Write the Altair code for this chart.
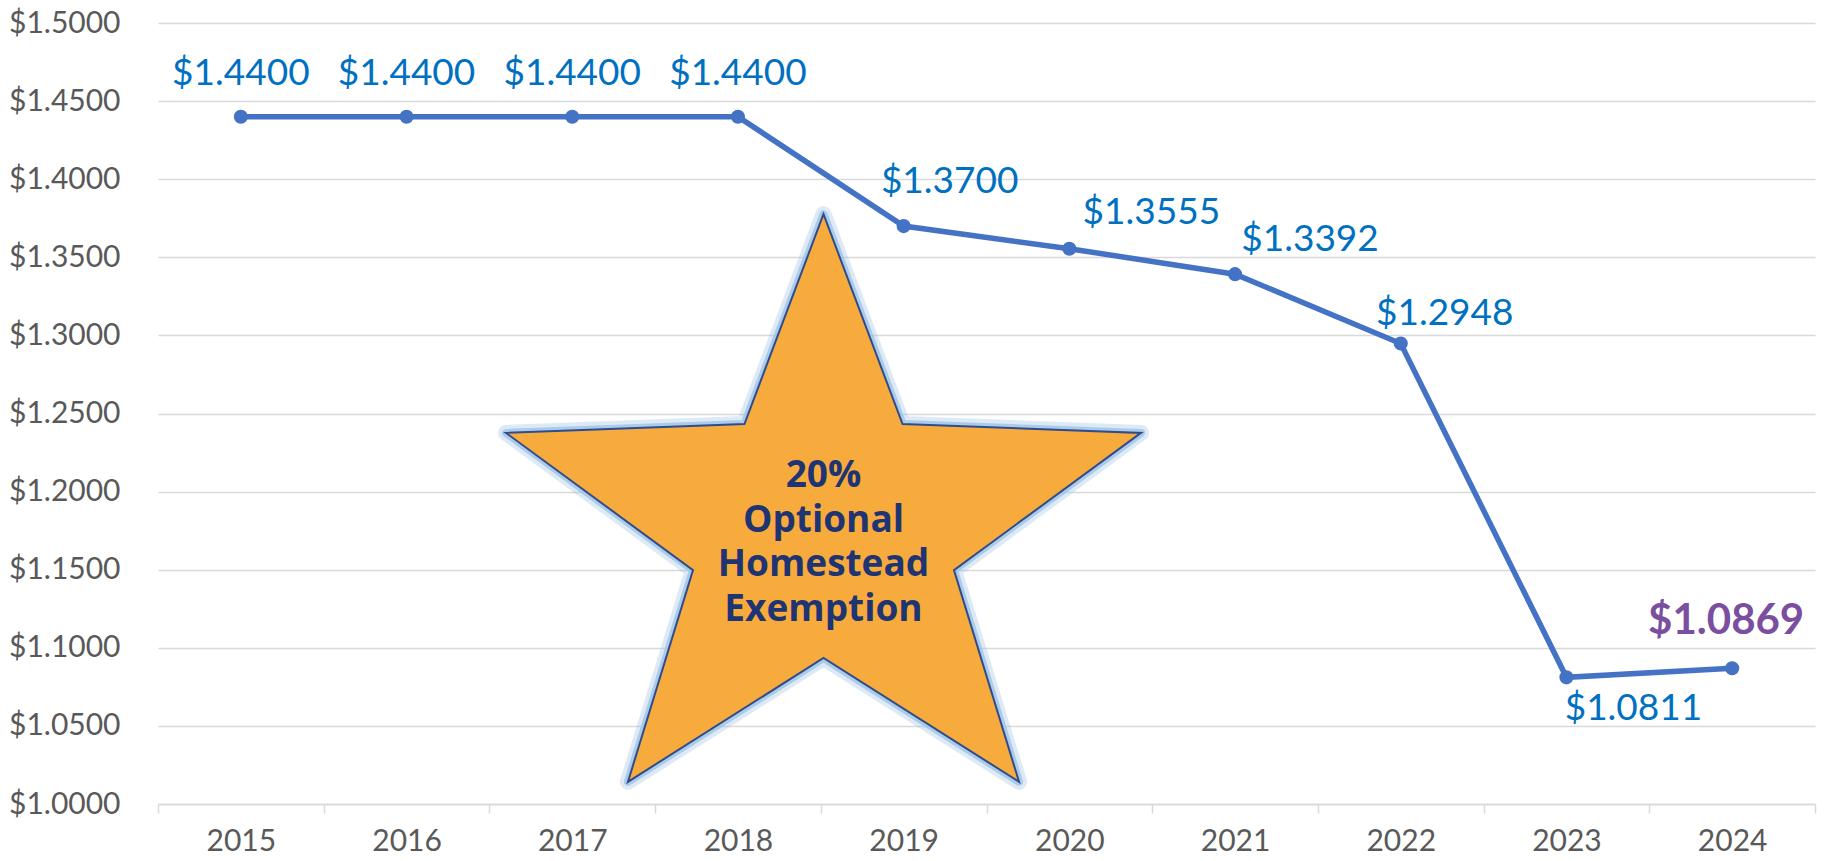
import altair as alt
import pandas as pd

YEARS = ["2015", "2016", "2017", "2018", "2019", "2020", "2021", "2022", "2023", "2024"]
RATES = [1.4400, 1.4400, 1.4400, 1.4400, 1.3700, 1.3555, 1.3392, 1.2948, 1.0811, 1.0869]
Y_TICKS = [1.00, 1.05, 1.10, 1.15, 1.20, 1.25, 1.30, 1.35, 1.40, 1.45, 1.50]
STAR_LINES = ["20%", "Optional", "Homestead", "Exemption"]

# label placement offsets (pixels, relative to each point)
LABEL_DX = [0, 0, 0, 0, 46, 82, 75, 44, 67, -6]
LABEL_DY = [-43, -43, -43, -43, -44, -36, -34, -30, 32, -47]

df = pd.DataFrame({"year": YEARS, "rate": RATES})

x_enc = alt.X(
    "year:O",
    scale=alt.Scale(type="band", paddingInner=0, paddingOuter=0),
    axis=alt.Axis(
        title=None, labelAngle=0, tickBand="extent", grid=False,
        domainColor="#D9D9D9", domainWidth=1.5, tickColor="#D9D9D9", tickWidth=1.5,
        tickSize=9, labelFont="Lato", labelFontSize=30, labelColor="#595959",
        labelPadding=13,
    ),
)
y_enc = alt.Y(
    "rate:Q",
    scale=alt.Scale(domain=[1.0, 1.5], nice=False, zero=False),
    axis=alt.Axis(
        title=None, values=Y_TICKS, format="$.4f", domain=False, ticks=False,
        gridColor="#D9D9D9", gridWidth=1.3, labelFont="Lato", labelFontSize=30,
        labelColor="#595959", labelPadding=38,
    ),
)

base = alt.Chart(df)

star_path = ("M0,-0.894L0.249,-0.233L1,-0.205L0.411,0.227L0.616,0.894L0,0.504"
             "L-0.616,0.894L-0.411,0.227L-1,-0.205L-0.249,-0.233Z")
one = pd.DataFrame({"k": [0]})
star_glow = alt.Chart(one).mark_point(
    shape=star_path, size=403225, filled=False, stroke="#9DC3E6",
    strokeWidth=16, strokeOpacity=0.35, strokeJoin="round", opacity=1,
).encode(x=alt.value(665.5), y=alt.value(475))
star_glow2 = alt.Chart(one).mark_point(
    shape=star_path, size=403225, filled=False, stroke="#9DC3E6",
    strokeWidth=8, strokeOpacity=0.8, strokeJoin="round", opacity=1,
).encode(x=alt.value(665.5), y=alt.value(475))
star = alt.Chart(one).mark_point(
    shape=star_path, size=403225, filled=True, fill="#F8AB3D", stroke="#2E4C8E",
    strokeWidth=2, opacity=1, fillOpacity=1, strokeOpacity=1,
).encode(x=alt.value(665.5), y=alt.value(475))
star_text = alt.Chart(one).mark_text(
    font="Open Sans", fontWeight="bold", fontSize=37, color="#1F3473",
    align="center", baseline="middle", lineHeight=44.5,
).encode(x=alt.value(665.5), y=alt.value(453), text=alt.value(STAR_LINES))

line = base.mark_line(color="#4472C4", strokeWidth=5.5).encode(x=x_enc, y=y_enc)
pts = base.mark_point(filled=True, color="#4472C4", size=200, opacity=1).encode(x=x_enc, y=y_enc)

label_layers = []
for i, yr in enumerate(YEARS):
    last = i == len(YEARS) - 1
    label_layers.append(
        base.transform_filter(alt.datum.year == yr).mark_text(
            font="Lato", fontSize=42 if last else 37,
            fontWeight="bold" if last else "normal",
            color="#7A4FA0" if last else "#0070C0",
            align="center", baseline="middle",
            dx=LABEL_DX[i], dy=LABEL_DY[i],
        ).encode(x=x_enc, y=y_enc, text=alt.Text("rate:Q", format="$.4f"))
    )

chart = alt.layer(
    star_glow, star_glow2, star, star_text, line, pts, *label_layers
).properties(
    width=1657, height=781,
    autosize=alt.AutoSizeParams(type="none"),
    padding={"left": 158, "top": 23, "right": 20, "bottom": 57},
    background="white",
).configure_view(stroke=None)

chart.save("out.html", embed_options={"renderer": "svg", "actions": False})
